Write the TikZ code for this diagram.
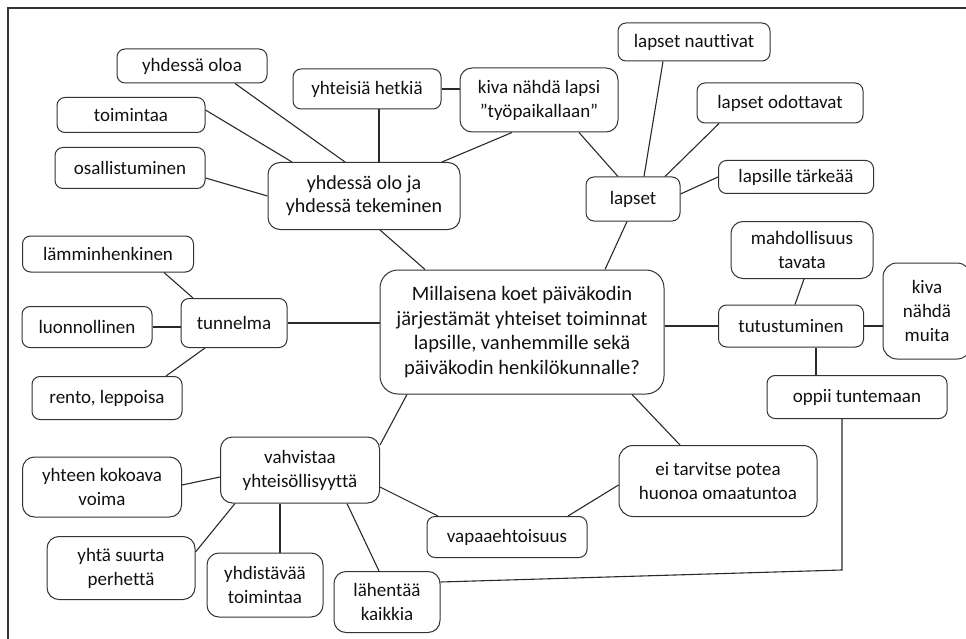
\documentclass[tikz,border=0pt]{standalone}
\usepackage{fontspec}
\setmainfont{Carlito}[Ligatures={NoCommon}]
\definecolor{boxcol}{HTML}{333333}
\definecolor{txtcol}{HTML}{111111}
\definecolor{linkcol}{HTML}{2A2A2A}
\begin{document}
\begin{tikzpicture}[x=1pt,y=-1pt,
  box/.style={draw=boxcol, line width=1pt, rounded corners=8pt, align=center,
    inner sep=0pt, font=\fontsize{19}{24}\selectfont, text=txtcol},
  bigbox/.style={box, rounded corners=18pt, font=\fontsize{20.5}{24.5}\selectfont},
  link/.style={draw=linkcol, line width=1.1pt},
  frameline/.style={draw=black!80, line width=1.8pt}]
\useasboundingbox (0,0) rectangle (966,639);
\draw[frameline] (8,639) -- (8,8) -- (966,8);

% nodes
\node[box, minimum width=150pt, minimum height=34pt] (oloa) at (192,66) {yhdessä oloa};
\node[box, minimum width=148pt, minimum height=40pt] (hetkia) at (367,89) {yhteisiä hetkiä};
\node[box, minimum width=148pt, minimum height=35pt] (toim) at (131,115) {toimintaa};
\node[box, minimum width=150pt, minimum height=41pt] (osal) at (130,168) {osallistuminen};
\node[box, rounded corners=12pt, minimum width=192pt, minimum height=67pt, font=\fontsize{20}{23}\selectfont] (yolo) at (364,196) {yhdessä olo ja\\yhdessä tekeminen};
\node[box, rounded corners=12pt, minimum width=158pt, minimum height=64pt] (kivalapsi) at (539,100) {kiva nähdä lapsi\\”työpaikallaan”};
\node[box, minimum width=152pt, minimum height=38pt] (nautt) at (694,42) {lapset nauttivat};
\node[box, minimum width=166pt, minimum height=40pt] (odott) at (780,103) {lapset odottavat};
\node[box, minimum width=155pt, minimum height=33pt] (tarkea) at (796,177) {lapsille tärkeää};
\node[box, minimum width=94pt, minimum height=44pt] (lapset) at (633,199) {lapset};
\node[box, minimum width=171pt, minimum height=36pt] (lamm) at (108,254) {lämminhenkinen};
\node[box, minimum width=106pt, minimum height=49pt] (tunn) at (234,323) {tunnelma};
\node[box, minimum width=130pt, minimum height=41pt] (luonn) at (87,327) {luonnollinen};
\node[box, minimum width=150pt, minimum height=43pt] (rento) at (107,398) {rento, leppoisa};
\node[bigbox, minimum width=284pt, minimum height=124pt] (center) at (522,332) {Millaisena koet päiväkodin\\järjestämät yhteiset toiminnat\\lapsille, vanhemmille sekä\\päiväkodin henkilökunnalle?};
\node[box, rounded corners=12pt, minimum width=142pt, minimum height=57pt] (mahd) at (802,250) {mahdollisuus\\tavata};
\node[box, rounded corners=14pt, minimum width=88pt, minimum height=96pt] (kivamuita) at (927,311) {kiva\\nähdä\\muita};
\node[box, minimum width=145pt, minimum height=42pt] (tutu) at (791,326) {tutustuminen};
\node[box, minimum width=180pt, minimum height=43pt] (oppii) at (857,397) {oppii tuntemaan};
\node[box, rounded corners=14pt, minimum width=198pt, minimum height=71pt] (eitarv) at (718,481) {ei tarvitse potea\\huonoa omaatuntoa};
\node[box, minimum width=160pt, minimum height=41pt] (vapa) at (507,537) {vapaaehtoisuus};
\node[box, rounded corners=12pt, minimum width=159pt, minimum height=66pt] (vahv) at (300,470) {vahvistaa\\yhteisöllisyyttä};
\node[box, rounded corners=12pt, minimum width=159pt, minimum height=60pt] (yhteen) at (102,487) {yhteen kokoava\\voima};
\node[box, rounded corners=12pt, minimum width=148pt, minimum height=63pt] (yhta) at (121,568) {yhtä suurta\\perhettä};
\node[box, rounded corners=12pt, minimum width=116pt, minimum height=64pt] (yhdist) at (265,585) {yhdistävää\\toimintaa};
\node[box, rounded corners=12pt, minimum width=106pt, minimum height=61pt] (lahent) at (387,602) {lähentää\\kaikkia};
\coordinate (bend) at (842,570);

% connectors
\draw[link] ([xshift=43pt]oloa.south) -- ([xshift=-19pt]yolo.north);
\draw[link] ([yshift=5pt]toim.east) -- ([xshift=-72pt]yolo.north);
\draw[link] ([yshift=-10pt]osal.east) -- (yolo.west);
\draw[link] ([xshift=12pt]hetkia.south) -- ([xshift=12pt]hetkia.south |- yolo.north);
\draw[link] (hetkia.east) -- (hetkia.east -| kivalapsi.west);
\draw[link] ([xshift=-27pt]kivalapsi.south) -- ([xshift=78pt]yolo.north);
\draw[link] ([xshift=40pt]kivalapsi.south) -- ([xshift=-15pt]lapset.north);
\draw[link] ([xshift=-31pt]nautt.south) -- ([xshift=11pt]lapset.north);
\draw[link] ([xshift=-61pt]odott.south) -- ([xshift=32pt]lapset.north);
\draw[link] (tarkea.west) -- ([yshift=5pt]lapset.east);
\draw[link] ([xshift=-6pt]lapset.south) -- ([xshift=83pt]center.north);
\draw[link] ([xshift=16pt]yolo.south) -- ([xshift=-97pt]center.north);
\draw[link] ([xshift=56pt]lamm.south) -- ([xshift=-41pt]tunn.north);
\draw[link] (luonn.east) -- (luonn.east -| tunn.west);
\draw[link] ([xshift=59pt]rento.north) -- ([xshift=-29pt]tunn.south);
\draw[link] (tunn.east) -- (tunn.east -| center.west);
\draw[link] (tutu.west) -- (tutu.west -| center.east);
\draw[link] ([xshift=2pt]mahd.south) -- ([xshift=4pt]tutu.north);
\draw[link] (tutu.east) -- (tutu.east -| kivamuita.west);
\draw[link] ([xshift=25pt]tutu.south) -- ([xshift=25pt]tutu.south |- oppii.north);
\draw[link] ([xshift=-15pt]oppii.south) -- (bend) -- ([yshift=20pt]lahent.east);
\draw[link] ([xshift=-115pt]center.south) -- ([yshift=25pt]vahv.east);
\draw[link] ([xshift=110pt]center.south) -- ([xshift=-38pt]eitarv.north);
\draw[link] ([yshift=-4pt]eitarv.west) -- ([xshift=61pt]vapa.north);
\draw[link] ([yshift=-17pt]vahv.east) -- ([xshift=-69pt]vapa.north);
\draw[link] ([yshift=2pt]yhteen.east) -- ([yshift=-7pt]vahv.west);
\draw[link] ([yshift=16pt]yhta.east) -- ([xshift=-65pt]vahv.south);
\draw[link] ([xshift=15pt]yhdist.north) -- ([xshift=15pt]yhdist.north |- vahv.south);
\draw[link] ([xshift=-8pt]lahent.north) -- ([xshift=47pt]vahv.south);
\end{tikzpicture}
\end{document}
